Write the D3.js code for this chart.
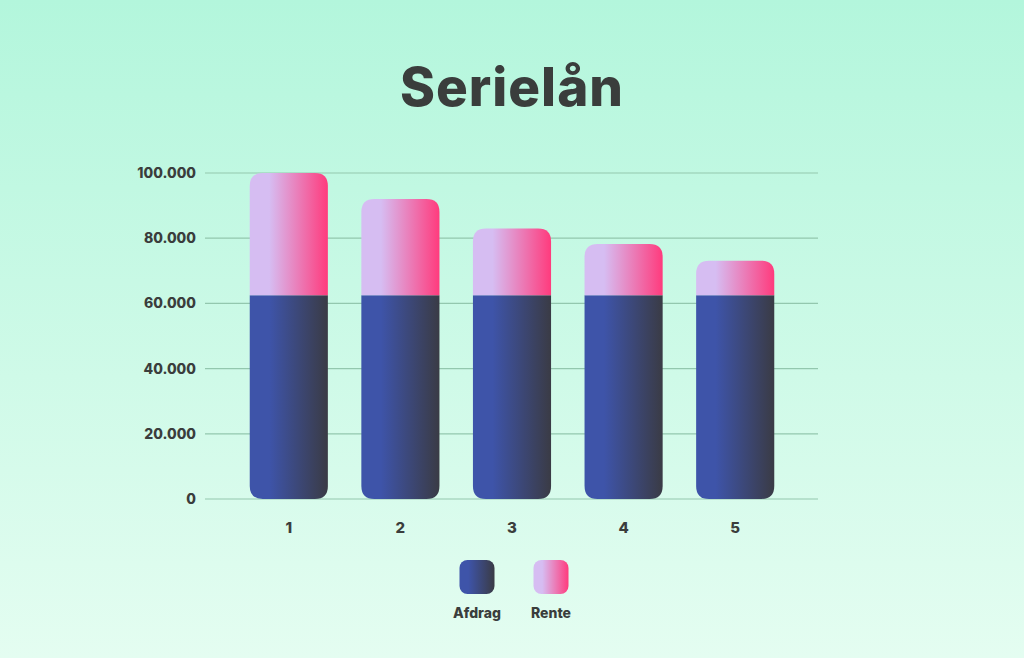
<!DOCTYPE html>
<html>
<head>
<meta charset="utf-8">
<script src="https://cdn.jsdelivr.net/npm/d3@7"></script>
<style>
  html, body { margin: 0; padding: 0; }
  body { width: 1024px; height: 658px; overflow: hidden; }
  text { font-family: Inter, Lato, sans-serif; fill: #3a3d3c; }
</style>
</head>
<body>
<script>
// chart data
var years = ["1", "2", "3", "4", "5"];
var afdrag = [62500, 62500, 62500, 62500, 62500];
var rente = [37500, 29500, 20500, 15700, 10600];
var yTicks = [0, 20000, 40000, 60000, 80000, 100000];
var seriesNames = ["Afdrag", "Rente"];

var width = 1024, height = 658;

var svg = d3.select("body").append("svg")
    .attr("width", width)
    .attr("height", height);

var defs = svg.append("defs");

// background
var bg = defs.append("linearGradient").attr("id", "bg")
    .attr("x1", "0%").attr("y1", "0%").attr("x2", "0%").attr("y2", "100%");
bg.append("stop").attr("offset", "0%").attr("stop-color", "#b3f6dc");
bg.append("stop").attr("offset", "100%").attr("stop-color", "#e4fdf1");
svg.append("rect").attr("width", width).attr("height", height).style("fill", "url(#bg)");

// bar gradients
function hGradient(id, c1, c2) {
    var g = defs.append("linearGradient").attr("id", id)
        .attr("x1", "0%").attr("y1", "0%").attr("x2", "100%").attr("y2", "0%");
    g.append("stop").attr("offset", "25%").attr("stop-color", c1);
    g.append("stop").attr("offset", "100%").attr("stop-color", c2);
}
hGradient("gAfdrag", "#3e54a9", "#3a3b45");
hGradient("gRente", "#d6bdf2", "#ff3b7d");

// title
svg.append("text")
    .attr("x", 512).attr("y", 106)
    .attr("text-anchor", "middle")
    .attr("font-size", 53)
    .attr("font-weight", 800)
    .style("letter-spacing", "1px")
    .text("Serielån");

var margin = { left: 205, right: 818, top: 173, bottom: 499 };

var x = d3.scaleBand()
    .domain(years)
    .range([233, 791])
    .paddingInner(0.3)
    .paddingOuter(0.15);

var y = d3.scaleLinear()
    .domain([0, 100000])
    .range([margin.bottom, margin.top]);

// grid lines
svg.append("g").selectAll("line")
    .data(yTicks)
    .enter().append("line")
    .attr("x1", margin.left).attr("x2", margin.right)
    .attr("y1", function (d) { return y(d); })
    .attr("y2", function (d) { return y(d); })
    .style("stroke", "#93c7ae")
    .style("stroke-width", 1.2);

// y axis labels
var fmt = function (d) { return d3.format(",")(d).replace(/,/g, "."); };
svg.append("g").selectAll("text")
    .data(yTicks)
    .enter().append("text")
    .attr("x", 196)
    .attr("y", function (d) { return y(d) + 5; })
    .attr("text-anchor", "end")
    .attr("font-size", 14)
    .attr("font-weight", 800)
    .text(fmt);

// rounded-end rect path: rounded at top or bottom only
function roundedRect(x0, y0, w, h, r, where) {
    if (where === "top") {
        return "M" + x0 + "," + (y0 + h) +
            "V" + (y0 + r) +
            "Q" + x0 + "," + y0 + " " + (x0 + r) + "," + y0 +
            "H" + (x0 + w - r) +
            "Q" + (x0 + w) + "," + y0 + " " + (x0 + w) + "," + (y0 + r) +
            "V" + (y0 + h) + "Z";
    }
    return "M" + x0 + "," + y0 +
        "V" + (y0 + h - r) +
        "Q" + x0 + "," + (y0 + h) + " " + (x0 + r) + "," + (y0 + h) +
        "H" + (x0 + w - r) +
        "Q" + (x0 + w) + "," + (y0 + h) + " " + (x0 + w) + "," + (y0 + h - r) +
        "V" + y0 + "Z";
}

var bars = svg.append("g");
var r = 13;

// afdrag bars (bottom)
bars.selectAll(".afdrag")
    .data(years)
    .enter().append("path")
    .attr("class", "afdrag")
    .attr("d", function (d, i) {
        var top = y(afdrag[i]);
        return roundedRect(x(d), top, x.bandwidth(), y(0) - top, r, "bottom");
    })
    .style("fill", "url(#gAfdrag)");

// rente bars (stacked on top)
bars.selectAll(".rente")
    .data(years)
    .enter().append("path")
    .attr("class", "rente")
    .attr("d", function (d, i) {
        var top = y(afdrag[i] + rente[i]);
        return roundedRect(x(d), top, x.bandwidth(), y(afdrag[i]) - top, r, "top");
    })
    .style("fill", "url(#gRente)");

// x labels
svg.append("g").selectAll("text")
    .data(years)
    .enter().append("text")
    .attr("x", function (d) { return x(d) + x.bandwidth() / 2; })
    .attr("y", 533)
    .attr("text-anchor", "middle")
    .attr("font-size", 15)
    .attr("font-weight", 800)
    .text(function (d) { return d; });

// legend
var legendX = [477, 551];
var fills = ["url(#gAfdrag)", "url(#gRente)"];
var lg = svg.append("g").selectAll("g")
    .data(seriesNames)
    .enter().append("g");

lg.append("rect")
    .attr("x", function (d, i) { return legendX[i] - 17.5; })
    .attr("y", 560)
    .attr("width", 35)
    .attr("height", 34)
    .attr("rx", 8)
    .style("fill", function (d, i) { return fills[i]; });

lg.append("text")
    .attr("x", function (d, i) { return legendX[i]; })
    .attr("y", 618)
    .attr("text-anchor", "middle")
    .attr("font-size", 14)
    .attr("font-weight", 800)
    .text(function (d) { return d; });
</script>
</body>
</html>
